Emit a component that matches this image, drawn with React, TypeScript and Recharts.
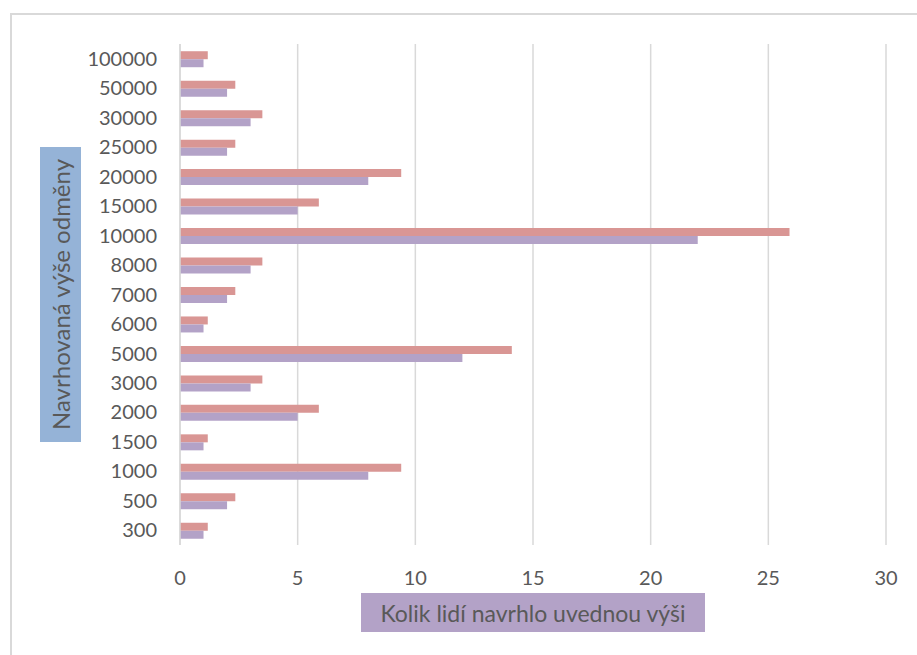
import { BarChart, Bar, XAxis, YAxis, CartesianGrid } from 'recharts'

// top to bottom, as in the chart
const categories = [
    '100000', '50000', '30000', '25000', '20000', '15000', '10000', '8000',
    '7000', '6000', '5000', '3000', '2000', '1500', '1000', '500', '300',
]
const countValues = [1, 2, 3, 2, 8, 5, 22, 3, 2, 1, 12, 3, 5, 1, 8, 2, 1]
const shareValues = [
    1.18, 2.35, 3.5, 2.35, 9.4, 5.9, 25.9, 3.5, 2.35, 1.18, 14.1, 3.5, 5.9, 1.18,
    9.4, 2.35, 1.18,
]
const xTicks = [0, 5, 10, 15, 20, 25, 30]

const data = categories.map((cat, i) => ({
    cat,
    share: shareValues[i],
    count: countValues[i],
}))

const font = 'Lato, "Open Sans", sans-serif'
const textColor = '#595959'

export default function App() {
    return (
        <div
            style={{
                position: 'absolute',
                left: 0,
                top: 0,
                width: 917,
                height: 655,
                overflow: 'hidden',
                background: '#fff',
                fontFamily: font,
            }}
        >
            <div
                style={{
                    position: 'absolute',
                    left: 10,
                    top: 13,
                    width: 940,
                    height: 700,
                    border: '2px solid #d9d9d9',
                }}
            />
            <BarChart
                width={917}
                height={655}
                data={data}
                layout="vertical"
                margin={{ top: 44, right: 31, bottom: 0, left: 0 }}
                barCategoryGap="24.5%"
                barGap={0}
            >
                <CartesianGrid
                    horizontal={false}
                    stroke="#d9d9d9"
                    strokeWidth={1.5}
                />
                <XAxis
                    type="number"
                    domain={[0, 30]}
                    ticks={xTicks}
                    axisLine={false}
                    tickLine={false}
                    tickMargin={20}
                    height={110}
                    tick={{ fill: textColor, fontSize: 20, fontFamily: font }}
                />
                <YAxis
                    type="category"
                    dataKey="cat"
                    width={180}
                    axisLine={{ stroke: '#d9d9d9', strokeWidth: 1.5 }}
                    tickLine={false}
                    tickMargin={17}
                    interval={0}
                    tick={{ fill: textColor, fontSize: 20, fontFamily: font }}
                />
                <Bar dataKey="share" fill="#d99694" isAnimationActive={false} />
                <Bar dataKey="count" fill="#b3a2c7" isAnimationActive={false} />
            </BarChart>
            <div
                style={{
                    position: 'absolute',
                    left: 40,
                    top: 147,
                    width: 41,
                    height: 295,
                    background: '#95b3d7',
                    display: 'flex',
                    alignItems: 'center',
                    justifyContent: 'center',
                }}
            >
                <div
                    style={{
                        transform: 'rotate(-90deg)',
                        whiteSpace: 'nowrap',
                        color: textColor,
                        fontSize: 24,
                    }}
                >
                    Navrhovaná výše odměny
                </div>
            </div>
            <div
                style={{
                    position: 'absolute',
                    left: 361,
                    top: 593,
                    width: 344,
                    height: 39,
                    background: '#b3a2c7',
                    display: 'flex',
                    alignItems: 'center',
                    justifyContent: 'center',
                    color: textColor,
                    fontSize: 23,
                    whiteSpace: 'nowrap',
                }}
            >
                Kolik lidí navrhlo uvednou výši
            </div>
        </div>
    )
}
